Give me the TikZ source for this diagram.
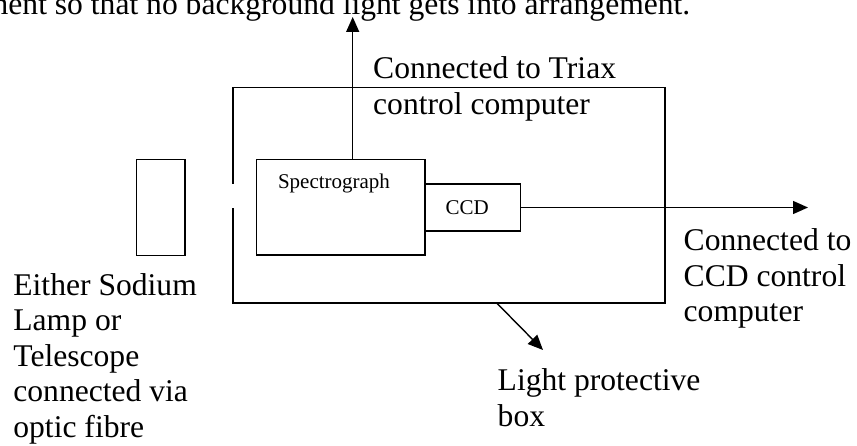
\documentclass[tikz,border=0pt]{standalone}
\usepackage{fontspec}
\setmainfont{Liberation Serif}
\usetikzlibrary{arrows.meta}
\begin{document}
\begin{tikzpicture}[x=1pt,y=-1pt,line width=1.4pt,
  box/.style={draw,rectangle,inner sep=0pt},
  big/.style={font=\fontsize{31.6}{35.5}\selectfont,inner sep=0pt,align=left,anchor=base west},
  small/.style={font=\fontsize{21}{24}\selectfont,inner sep=0pt,anchor=base west},
  arr/.style={-{Triangle[length=15pt,width=13pt]}}]
\useasboundingbox (0,0) rectangle (857,446);
\clip (0,0) rectangle (857,446);

% running text of the page above the drawing
\node[big,anchor=base east] (runtext) at (691,15) {ment so that no background light gets into arrangement.};

% light protective box with an entrance slit on its left side
\coordinate (slitlo) at (233,207.7);
\coordinate (slithi) at (233,184);
\draw (slithi) -- (233,87.7) -- (665,87.7) -- (665,303) -- (233,303) -- (slitlo);

% light source
\node[box,minimum width=48.3pt,minimum height=96.4pt] (lamp) at (160.85,207.5) {};

% spectrograph and CCD
\node[box,minimum width=168.3pt,minimum height=95.7pt] (spec) at (340.85,207.15) {};
\node[small] (spectext) at (277.3,189) {Spectrograph};
\node[box,minimum width=95.7pt,minimum height=47pt] (ccd) at (472.85,207.5) {};
\node[small] (ccdtext) at (445,215) {CCD};

% connections
\coordinate (triax) at (352.7,17);
\coordinate (ccdout) at (808,207.5);
\coordinate (boxlo) at (496.7,303);
\coordinate (boxtip) at (543,350);
\draw[arr] (spec.north -| triax) -- (triax);
\draw[arr] (ccd.east) -- (ccdout);
\draw[arr] (boxlo) -- (boxtip);

% labels (anchored at the baseline of their last line)
\node[big] (triaxlbl) at (372.5,114.5) {Connected to Triax\\control computer};
\node[big] (ccdlbl) at (683,322) {Connected to\\CCD control\\computer};
\node[big] (boxlbl) at (497,426) {Light protective\\box};
\node[big] (lamplbl) at (12.7,437) {Either Sodium\\Lamp or\\Telescope\\connected via\\optic fibre};
\end{tikzpicture}
\end{document}
